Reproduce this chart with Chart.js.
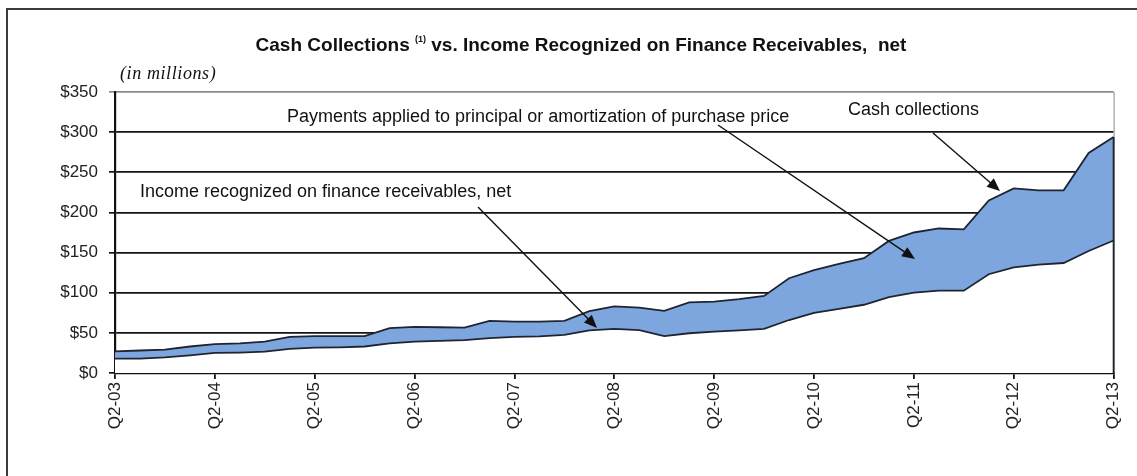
<!DOCTYPE html>
<html>
<head>
<meta charset="utf-8">
<script src="https://cdn.jsdelivr.net/npm/chart.js@4.4.1/dist/chart.umd.min.js"></script>
<style>
  html, body { margin: 0; padding: 0; background: #fff; }
  #wrap { position: relative; width: 1137px; height: 476px; overflow: hidden; }
  #frame { position: absolute; left: 6px; top: 8px; width: 1200px; height: 520px;
           border-top: 2px solid #3a3a3a; border-left: 2px solid #3a3a3a; }
  canvas { position: absolute; left: 0; top: 0; }
</style>
</head>
<body>
<div id="wrap">
  <div id="frame"></div>
  <canvas id="cashChart" width="1137" height="476"></canvas>
</div>
<script>
// quarters Q2-03 .. Q2-13
const quarters = [
  'Q2-03','Q3-03','Q4-03','Q1-04','Q2-04','Q3-04','Q4-04','Q1-05',
  'Q2-05','Q3-05','Q4-05','Q1-06','Q2-06','Q3-06','Q4-06','Q1-07',
  'Q2-07','Q3-07','Q4-07','Q1-08','Q2-08','Q3-08','Q4-08','Q1-09',
  'Q2-09','Q3-09','Q4-09','Q1-10','Q2-10','Q3-10','Q4-10','Q1-11',
  'Q2-11','Q3-11','Q4-11','Q1-12','Q2-12','Q3-12','Q4-12','Q1-13',
  'Q2-13'
];

// cash collections (top edge of the blue band), $ millions
const cashCollections = [
  27, 28, 29, 33, 36, 37, 39, 45,
  46, 46, 46, 56, 57.5, 57, 56.5, 65,
  64, 64, 65, 77, 83, 81.5, 77.5, 88,
  89, 92, 96, 118, 128, 136, 143, 164.5,
  175, 180, 179, 215, 230, 227.5, 227.5, 274,
  294
];

// income recognized on finance receivables, net (bottom edge), $ millions
const incomeRecognized = [
  18, 18, 19.5, 22, 25, 25.5, 26.5, 30,
  31.5, 32, 33, 37, 39, 40, 41, 43.5,
  45, 45.5, 47.5, 53, 55, 53.5, 46, 49.5,
  51.5, 53, 55, 66, 75, 80, 85, 94.5,
  100, 102.5, 102.5, 123, 131.5, 135, 137, 152,
  165
];

const yTicks = [0, 50, 100, 150, 200, 250, 300, 350];

const INK = '#1e2430';
const BAND = '#7ea6de';

// texte, fleches et bord droit
const overlay = {
  id: 'overlay',
  afterDatasetsDraw(chart) {
    const ctx = chart.ctx;
    const area = chart.chartArea;
    const xs = chart.scales.x, ys = chart.scales.y;
    const last = quarters.length - 1;

    ctx.save();
    // bord droit de la zone de tracé
    ctx.strokeStyle = '#8a8a8a';
    ctx.lineWidth = 1;
    ctx.beginPath();
    ctx.moveTo(area.right + 0.5, area.top);
    ctx.lineTo(area.right + 0.5, area.bottom);
    ctx.stroke();
    // contour vertical de la bande à la fin
    ctx.strokeStyle = INK;
    ctx.lineWidth = 1.8;
    ctx.beginPath();
    ctx.moveTo(xs.getPixelForValue(last), ys.getPixelForValue(cashCollections[last]));
    ctx.lineTo(xs.getPixelForValue(last), ys.getPixelForValue(0));
    ctx.stroke();

    // titre
    ctx.fillStyle = '#111';
    ctx.textBaseline = 'alphabetic';
    ctx.textAlign = 'left';
    const partA = 'Cash Collections ';
    const sup = '(1)';
    const partB = ' vs. Income Recognized on Finance Receivables,  net';
    ctx.font = 'bold 19px "Liberation Sans"';
    const wA = ctx.measureText(partA).width;
    const wB = ctx.measureText(partB).width;
    ctx.font = 'bold 9px "Liberation Sans"';
    const wS = ctx.measureText(sup).width;
    let tx = 581 - (wA + wS + wB) / 2;
    ctx.font = 'bold 19px "Liberation Sans"';
    ctx.fillText(partA, tx, 51);
    ctx.font = 'bold 9px "Liberation Sans"';
    ctx.fillText(sup, tx + wA, 42);
    ctx.font = 'bold 19px "Liberation Sans"';
    ctx.fillText(partB, tx + wA + wS, 51);

    ctx.font = 'italic 18px "Liberation Serif"';
    ctx.letterSpacing = '0.6px';
    ctx.fillText('(in millions)', 120, 79);
    ctx.letterSpacing = '0px';

    // annotations
    ctx.font = '18px "Liberation Sans"';
    ctx.fillText('Payments applied to principal or amortization of purchase price', 287, 122);
    ctx.fillText('Cash collections', 848, 115);
    ctx.fillText('Income recognized on finance receivables, net', 140, 197);

    const arrow = (x1, y1, x2, y2) => {
      const a = Math.atan2(y2 - y1, x2 - x1);
      const len = 13, half = 5.5;
      ctx.strokeStyle = '#111';
      ctx.lineWidth = 1.4;
      ctx.beginPath();
      ctx.moveTo(x1, y1);
      ctx.lineTo(x2 - Math.cos(a) * len * 0.8, y2 - Math.sin(a) * len * 0.8);
      ctx.stroke();
      ctx.fillStyle = '#111';
      ctx.beginPath();
      ctx.moveTo(x2, y2);
      ctx.lineTo(x2 - Math.cos(a) * len - Math.sin(a) * half, y2 - Math.sin(a) * len + Math.cos(a) * half);
      ctx.lineTo(x2 - Math.cos(a) * len + Math.sin(a) * half, y2 - Math.sin(a) * len - Math.cos(a) * half);
      ctx.closePath();
      ctx.fill();
    };
    arrow(478, 207, 597, 328);
    arrow(718, 125, 915, 259);
    arrow(933, 133, 1000, 191);
    ctx.restore();
  }
};

const ctx = document.getElementById('cashChart').getContext('2d');
new Chart(ctx, {
  type: 'line',
  data: {
    labels: quarters,
    datasets: [
      {
        label: 'Income recognized on finance receivables, net',
        data: incomeRecognized,
        borderColor: INK,
        borderWidth: 1.8,
        backgroundColor: '#ffffff',
        fill: 'origin'
      },
      {
        label: 'Cash collections',
        data: cashCollections,
        borderColor: INK,
        borderWidth: 1.8,
        backgroundColor: BAND,
        fill: '-1'
      }
    ]
  },
  options: {
    responsive: false,
    animation: false,
    devicePixelRatio: 1,
    layout: { padding: { top: 92, right: 22, left: 0, bottom: 0 } },
    elements: { point: { radius: 0 }, line: { tension: 0 } },
    plugins: {
      legend: { display: false },
      title: { display: false },
      tooltip: { enabled: false }
    },
    scales: {
      x: {
        offset: false,
        grid: {
          drawOnChartArea: false,
          tickLength: 6,
          lineWidth: 1.8,
          color: c => (c.index % 4 === 0 ? '#111' : 'rgba(0,0,0,0)')
        },
        border: { color: '#111', width: 2.2 },
        ticks: {
          autoSkip: false,
          maxRotation: 90,
          minRotation: 90,
          padding: 3,
          color: '#222',
          font: { family: 'Liberation Sans', size: 17 },
          callback: (v, i) => (i % 4 === 0 ? quarters[i] : '')
        },
        afterFit: s => { s.height = 103; }
      },
      y: {
        min: 0,
        max: 350,
        afterBuildTicks: s => { s.ticks = yTicks.map(v => ({ value: v })); },
        grid: {
          tickLength: 6,
          lineWidth: 1.7,
          color: c => (c.tick && c.tick.value === 350 ? '#8a8a8a' : '#151515')
        },
        border: { color: '#111', width: 2.2 },
        ticks: {
          padding: 11,
          color: '#222',
          font: { family: 'Liberation Sans', size: 17 },
          callback: v => '$' + v
        },
        afterFit: s => { s.width = 115; }
      }
    }
  },
  plugins: [overlay]
});
</script>
</body>
</html>
